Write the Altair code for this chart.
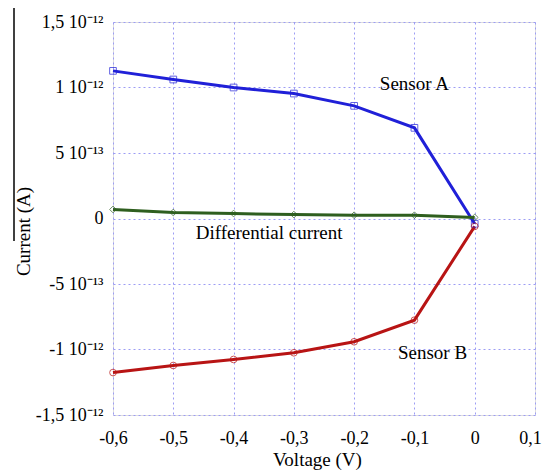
import altair as alt
import pandas as pd

voltage = [-0.6, -0.5, -0.4, -0.3, -0.2, -0.1, 0.0]
sensor_a = [1.127e-12, 1.061e-12, 1.0e-12, 0.954e-12, 0.86e-12, 0.692e-12, -0.04e-12]
sensor_b = [-1.176e-12, -1.122e-12, -1.076e-12, -1.025e-12, -0.941e-12, -0.776e-12, -0.06e-12]
differential = [0.069e-12, 0.046e-12, 0.038e-12, 0.030e-12, 0.025e-12, 0.025e-12, 0.008e-12]

series_names = ["Sensor A", "Sensor B", "Differential current"]
line_colors = ["#2020d8", "#b81414", "#2f5f1f"]
marker_colors = ["#8080ff", "#e07070", "#88a880"]
marker_shapes = ["square", "circle", "diamond"]

x_tick_values = [-0.6, -0.5, -0.4, -0.3, -0.2, -0.1, 0.0, 0.1]
x_tick_labels = ["-0,6", "-0,5", "-0,4", "-0,3", "-0,2", "-0,1", "0", "0,1"]
y_tick_values = [-1.5e-12, -1e-12, -5e-13, 0, 5e-13, 1e-12, 1.5e-12]
y_tick_labels = ["-1,5 10\u207b\u00b9\u00b2", "-1 10\u207b\u00b9\u00b2", "-5 10\u207b\u00b9\u00b3", "0",
                 "5 10\u207b\u00b9\u00b3", "1 10\u207b\u00b9\u00b2", "1,5 10\u207b\u00b9\u00b2"]

ann_text = ["Sensor A", "Differential current", "Sensor B"]
ann_x = [-0.1, -0.341, -0.07]
ann_y = [1.023e-12, -0.1145e-12, -1.03e-12]

rows = []
for name, vals in zip(series_names, [sensor_a, sensor_b, differential]):
    for v, c in zip(voltage, vals):
        rows.append({"series": name, "V": v, "I": c})
df = pd.DataFrame(rows)
ann = pd.DataFrame({"text": ann_text, "V": ann_x, "I": ann_y})

def build_expr(vals, labels, scale):
    expr = "''"
    for v, l in reversed(list(zip(vals, labels))):
        expr = f"round(datum.value*{scale})=={round(v*scale)} ? '{l}' : " + expr
    return expr

x_expr = build_expr(x_tick_values, x_tick_labels, 10)
y_expr = build_expr(y_tick_values, y_tick_labels, 1e13)

FONT = "Liberation Serif"
grid_color = "#9c9cf4"

x_enc = alt.X("V:Q", scale=alt.Scale(domain=[-0.6, 0.1], nice=False),
              axis=alt.Axis(values=x_tick_values, labelExpr=x_expr, title="Voltage (V)",
                            grid=True, gridColor=grid_color, gridDash=[2, 3], gridWidth=1,
                            domain=False, ticks=False, labelPadding=14,
                            labelOffset={"condition": {"test": "datum.value > 0.05", "value": -5},
                                         "value": 0},
                            labelFont=FONT, labelFontSize=18, labelColor="black",
                            titleFont=FONT, titleFontSize=19, titleFontWeight="normal",
                            titleColor="black", titleX=204, titleY=50,
                            titleBaseline="alphabetic", labelFlush=False))
y_enc = alt.Y("I:Q", scale=alt.Scale(domain=[-1.5e-12, 1.5e-12], nice=False),
              axis=alt.Axis(values=y_tick_values, labelExpr=y_expr, title="Current (A)",
                            grid=True, gridColor=grid_color, gridDash=[2, 3], gridWidth=1,
                            domain=False, ticks=False, labelPadding=10,
                            labelFont=FONT, labelFontSize=18, labelColor="black",
                            titleFont=FONT, titleFontSize=19, titleFontWeight="normal",
                            titleColor="black", titleX=-90, titleY=209, titleAngle=270,
                            titleBaseline="middle", titleAlign="center", labelFlush=False))

color_scale = alt.Scale(domain=series_names, range=line_colors)
marker_scale = alt.Scale(domain=series_names, range=marker_colors)
shape_scale = alt.Scale(domain=series_names, range=marker_shapes)

lines = alt.Chart(df).mark_line(strokeWidth=3).encode(
    x=x_enc, y=y_enc,
    color=alt.Color("series:N", scale=color_scale, legend=None),
    order=alt.Order("V:Q"),
)
points = alt.Chart(df).mark_point(filled=False, size=45, strokeWidth=1).encode(
    x="V:Q", y="I:Q",
    color=alt.Color("series:N", scale=marker_scale, legend=None),
    shape=alt.Shape("series:N", scale=shape_scale, legend=None),
)
texts = alt.Chart(ann).mark_text(font=FONT, fontSize=19, color="black",
                                 align="center", baseline="middle").encode(
    x="V:Q", y="I:Q", text="text:N")
rule = alt.Chart(ann.head(1)).mark_rule(color="black", strokeWidth=1.5).encode(
    x=alt.value(-99), y=alt.value(-22), y2=alt.value(219))

chart = alt.layer(lines, points, texts, rule).properties(
    width=422, height=393,
    autosize=alt.AutoSizeParams(type="none"),
    padding={"left": 105, "top": 14, "right": 7, "bottom": 57},
).configure_view(stroke="#7878ff", strokeWidth=1.2).configure(background="white")

chart.save("out.html", embed_options={"renderer": "svg", "actions": False})
